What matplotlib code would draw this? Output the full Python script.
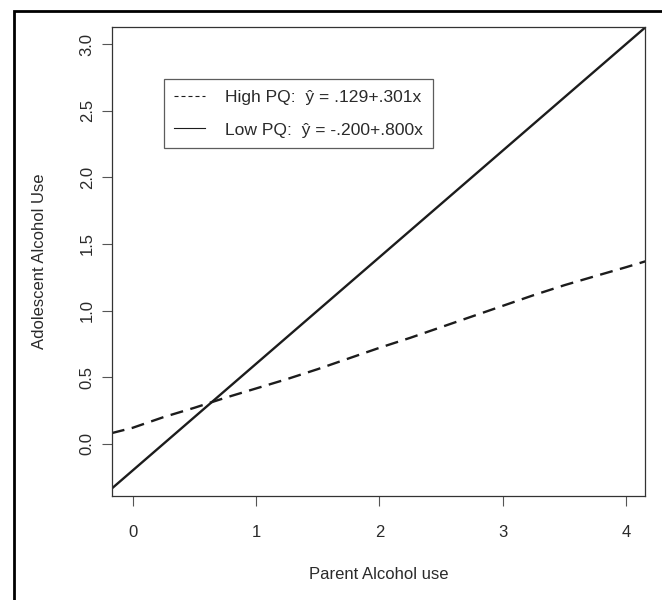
import numpy as np
import matplotlib.pyplot as plt
from matplotlib.lines import Line2D
from matplotlib.patches import Rectangle

# -------------------------------------------------------------------
# Data
# -------------------------------------------------------------------
# High PQ: fitted curve, drawn as a dashed line
high_x = [-0.17, 0.0, 0.25, 0.5, 0.75, 1.0, 1.25, 1.5, 1.75, 2.0,
          2.25, 2.5, 2.75, 3.0, 3.25, 3.5, 3.75, 4.0, 4.16]
high_y = [0.08, 0.12, 0.2, 0.27, 0.345, 0.415, 0.485, 0.56, 0.64, 0.72,
          0.795, 0.875, 0.955, 1.035, 1.115, 1.19, 1.258, 1.325, 1.37]

# Low PQ: straight regression line
low_intercept = -0.200
low_slope = 0.800

series_labels = ["High PQ:  ŷ = .129+.301x", "Low PQ:  ŷ = -.200+.800x"]

x_ticks = [0, 1, 2, 3, 4]
y_ticks = [0.0, 0.5, 1.0, 1.5, 2.0, 2.5, 3.0]
y_tick_labels = ["0.0", "0.5", "1.0", "1.5", "2.0", "2.5", "3.0"]

# -------------------------------------------------------------------
# Figure
# -------------------------------------------------------------------
plt.rcParams["font.family"] = ["Liberation Sans", "DejaVu Sans"]
text_col = "#2a2a2a"
line_col = "#1c1c1c"

fig = plt.figure(figsize=(6.62, 6.0), dpi=100)
ax = fig.add_axes([0.1696, 0.1738, 0.8054, 0.7804])

ax.plot(high_x, high_y, color=line_col, lw=1.7, linestyle=(0, (5.5, 3.2)))
ax.axline((0, low_intercept), slope=low_slope, color=line_col, lw=1.7)

ax.set_xlim(-0.166, 4.157)
ax.set_ylim(-0.39, 3.124)

ax.set_xticks(x_ticks)
ax.set_xticklabels([str(t) for t in x_ticks])
ax.set_yticks(y_ticks)
ax.set_yticklabels(y_tick_labels, rotation=90, va="center")

ax.tick_params(axis="both", direction="out", length=7.2, width=0.8,
               color="#555555", labelcolor=text_col, labelsize=12)
ax.tick_params(axis="x", pad=14.2)
ax.tick_params(axis="y", pad=5.4)

for sp in ax.spines.values():
    sp.set_color("#333333")
    sp.set_linewidth(0.9)

ax.set_xlabel("Parent Alcohol use", fontsize=12, color=text_col)
ax.xaxis.set_label_coords(0.5, -0.169)
ax.xaxis.label.set_va("center")
ax.set_ylabel("Adolescent Alcohol Use", fontsize=12, color=text_col)
ax.yaxis.set_label_coords(-0.1356, 0.5)
ax.yaxis.label.set_va("center")

# legend keys are drawn thin, like R's default lwd=1
leg_handles = [
    Line2D([], [], color=line_col, lw=0.8, linestyle=(0, (3.6, 2.7))),
    Line2D([], [], color=line_col, lw=0.8),
]
leg = ax.legend(leg_handles, series_labels, loc="upper left",
                bbox_to_anchor=(163.5 / 662, 1 - 79 / 600),
                bbox_transform=fig.transFigure, borderaxespad=0,
                fontsize=12.6, frameon=True, fancybox=False,
                borderpad=0.6, handlelength=1.75, handletextpad=1.15,
                labelspacing=1.0)
leg.get_frame().set_edgecolor("#333333")
leg.get_frame().set_linewidth(0.9)
for t in leg.get_texts():
    t.set_color(text_col)

# outer frame (only top and left edges fall inside the image)
fig.patches.append(Rectangle((14 / 662, -0.1), 1.2, 1 - 11 / 600 + 0.1,
                             transform=fig.transFigure, fill=False,
                             edgecolor="black", lw=2.0, clip_on=False))

fig.savefig("out.png", dpi=100)
